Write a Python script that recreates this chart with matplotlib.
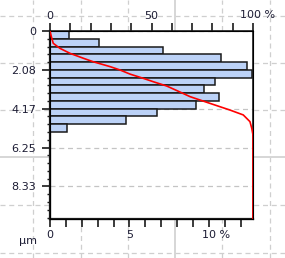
import numpy as np
import matplotlib
matplotlib.use("Agg")
import matplotlib.pyplot as plt
from matplotlib.lines import Line2D
from matplotlib.ticker import MultipleLocator, FixedLocator

# size classes (um), bin width = 2.0833 / 5
bin_w = 25.0 / 60.0
bin_low = [i * bin_w for i in range(13)]
# share of each class (%)
share = [1.2, 3.1, 7.1, 10.75, 12.4, 12.7, 10.4, 9.7, 10.6, 9.2, 6.75, 4.75, 1.06]
# cumulative curve (%)
cum_x = [0, 0.6, 1.6, 4.9, 9.9, 16.4, 21.3, 29.6, 34.5, 39.4, 46.0, 50.9, 57.5,
         63.0, 69.0, 78.8, 88.7, 95.2, 98.5, 99.4, 100, 100]
cum_y = [0, 0.28, 0.66, 0.93, 1.20, 1.46, 1.65, 1.91, 2.09, 2.31, 2.54, 2.72, 2.95,
         3.22, 3.52, 3.88, 4.24, 4.50, 4.86, 5.22, 5.58, 10.08]

y_ticks = [0, 25/12, 50/12, 75/12, 100/12]
y_labels = ["0", "2.08", "4.17", "6.25", "8.33"]

txt = "#1c1c34"
W, H = 285, 258

fig = plt.figure(figsize=(2.85, 2.58), dpi=100)

# page grid behind the chart
for px in [33, 81, 128, 222, 270]:
    fig.add_artist(Line2D([px / W, px / W], [0, 1], color="#cfcfcf", lw=0.9, ls=(0, (4, 3)), zorder=-5))
for py in [15.5, 63, 110, 205, 253]:
    fig.add_artist(Line2D([0, 1], [1 - py / H, 1 - py / H], color="#cfcfcf", lw=0.9, ls=(0, (4, 3)), zorder=-5))
fig.add_artist(Line2D([175 / W, 175 / W], [0, 1], color="#d6d6d6", lw=1.4, zorder=-5))
fig.add_artist(Line2D([0, 1], [1 - 157 / H, 1 - 157 / H], color="#d6d6d6", lw=1.4, zorder=-5))

ax = fig.add_axes([50 / W, 1 - 219 / H, 203 / W, 188 / H])
ax.set_facecolor("white")
ax.barh(bin_low, share, height=bin_w, align="edge", color="#bcd2f7",
        edgecolor="#1a1a1a", lw=1.1, zorder=3)
ax.set_xlim(0, 12.77)
ax.set_ylim(10.08, 0)

ax.yaxis.set_major_locator(FixedLocator(y_ticks))
ax.set_yticklabels(y_labels)
ax.yaxis.set_minor_locator(MultipleLocator(bin_w))
ax.xaxis.set_major_locator(FixedLocator([0, 5, 10]))
ax.set_xticklabels(["0", "5", ""])
ax.xaxis.set_minor_locator(MultipleLocator(1))
ax.tick_params(axis="y", which="major", direction="out", length=5.8, width=1.2, pad=4,
               labelsize=8, colors="#1a1a1a", labelcolor=txt)
ax.tick_params(axis="y", which="minor", direction="out", length=2.2, width=1.0, colors="#1a1a1a")
ax.tick_params(axis="x", which="both", direction="out", length=6, width=1.2, pad=2,
               labelsize=8, colors="#1a1a1a", labelcolor=txt)
ax.grid(axis="y", which="major", color="#c4c4c4", ls=(0, (4, 3)), lw=0.9, zorder=0)
for s in ax.spines.values():
    s.set_color("#1a1a1a")
    s.set_linewidth(1.2)
ax.spines["left"].set_linewidth(1.6)
ax.spines["bottom"].set_linewidth(1.6)
ax.annotate("10 %", xy=(10, 0), xycoords=("data", "axes fraction"), xytext=(-7, -11),
            textcoords="offset pixels", ha="left", va="top", fontsize=8, color=txt,
            annotation_clip=False)

top = ax.twiny()
top.plot(cum_x, cum_y, color="#ff0000", lw=1.2, zorder=5)
top.set_xlim(0, 100)
top.xaxis.set_major_locator(FixedLocator([0, 50, 100]))
top.set_xticklabels(["0", "50", ""])
top.xaxis.set_minor_locator(MultipleLocator(10))
top.tick_params(axis="x", which="both", direction="out", length=5.8, width=1.2, pad=1.5,
                labelsize=8, colors="#1a1a1a", labelcolor=txt)
top.annotate("100 %", xy=(100, 1), xycoords=("data", "axes fraction"), xytext=(-13, 11),
             textcoords="offset pixels", ha="left", va="bottom", fontsize=8, color=txt,
             annotation_clip=False)

fig.text(28 / W, 1 - 241 / H, "µm", fontsize=8, color=txt, ha="center", va="center")

fig.savefig("out.png", dpi=100)
